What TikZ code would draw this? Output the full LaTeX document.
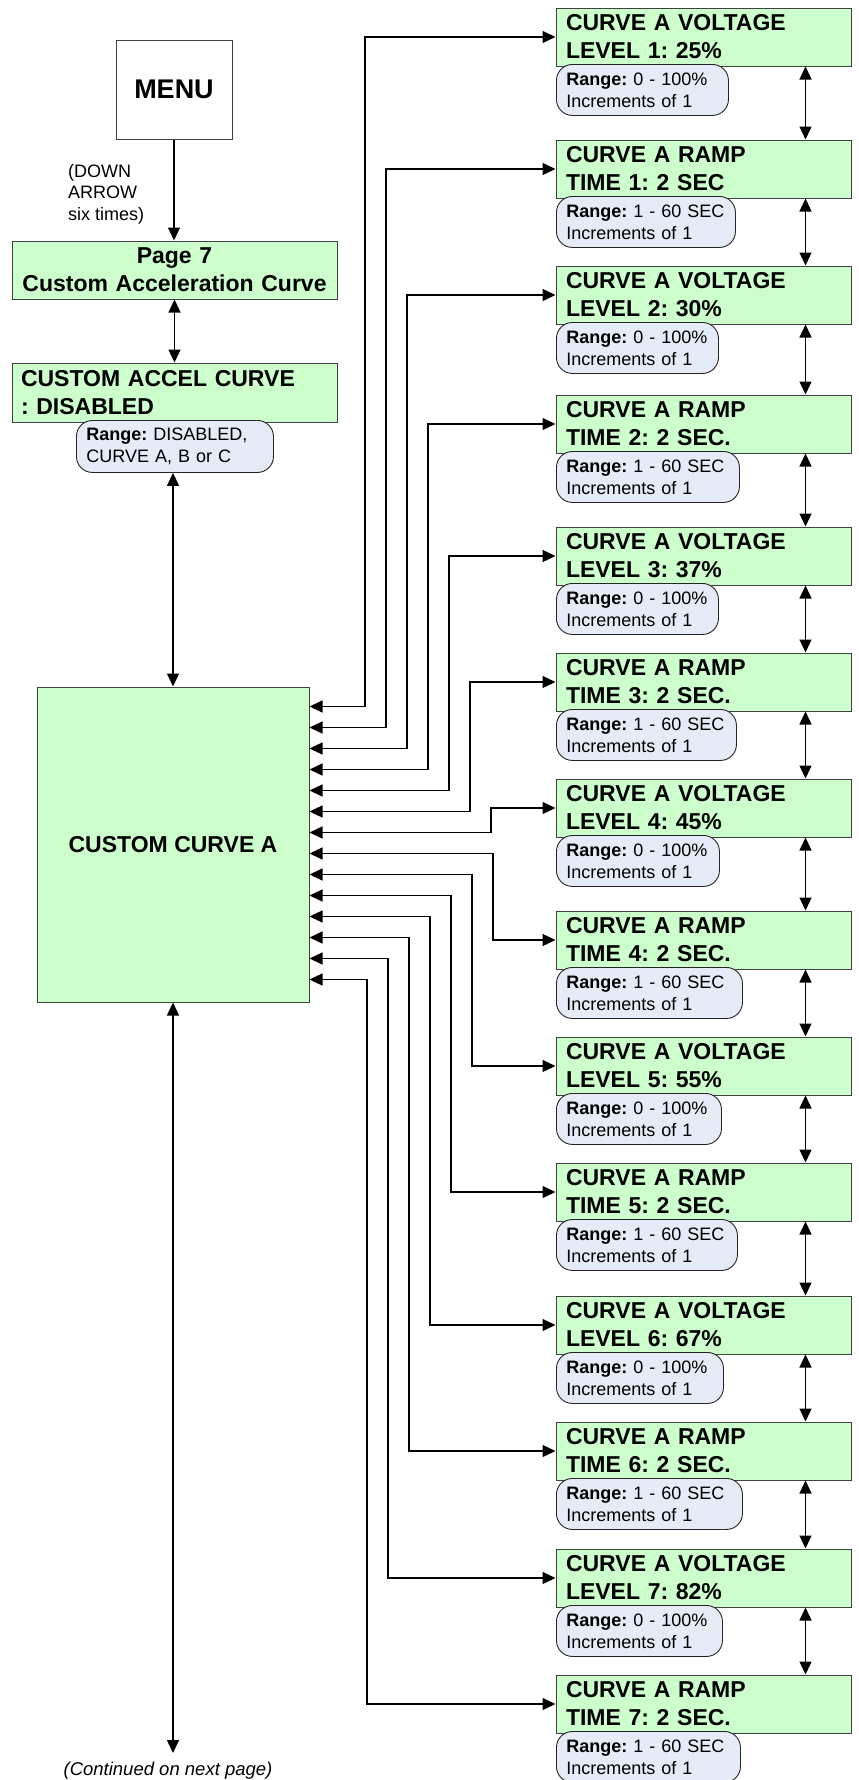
\documentclass[tikz,border=0pt]{standalone}
\usepackage{fontspec}
\setmainfont{Liberation Sans}
\usetikzlibrary{arrows.meta,calc}
\definecolor{boxgreen}{HTML}{CCFFCC}
\definecolor{rangefill}{HTML}{E5EBF7}
\definecolor{edgegray}{HTML}{404040}
\newcommand{\rngV}{\mbox{\textbf{Range:} 0 - 100\%}\\\mbox{Increments of 1}}
\newcommand{\rngR}{\mbox{\textbf{Range:} 1 - 60 SEC}\\\mbox{Increments of 1}}
\begin{document}
\frenchspacing
\begin{tikzpicture}[x=1pt,y=-1pt,
  bigfont/.style={font=\fontsize{23}{28}\selectfont\bfseries},
  gbox/.style={draw=edgegray, fill=boxgreen, line width=1pt, minimum width=295pt, minimum height=58pt, text width=275pt, inner xsep=10pt, inner ysep=0pt, align=left, bigfont},
  rbox/.style={draw=black!85, fill=rangefill, line width=0.9pt, rounded corners=16pt, minimum height=51pt, inner xsep=10pt, inner ysep=0pt, align=left, anchor=north west, font=\fontsize{18}{22}\selectfont},
  dbl/.style={line width=1.3pt, {Triangle[length=13pt,width=12pt]}-{Triangle[length=13pt,width=12pt]}},
  one/.style={line width=1.3pt, -{Triangle[length=13pt,width=12pt]}},
  note/.style={font=\fontsize{18}{21.7}\selectfont, align=left, inner sep=0pt}
]
\useasboundingbox (0,0) rectangle (859,1780);

% left column
\node[draw=edgegray, fill=white, line width=1pt, minimum width=116pt, minimum height=99pt, inner sep=0pt, font=\fontsize{27}{32}\selectfont\bfseries] (menu) at (174,89.5) {MENU};
\node[note, anchor=north west] (downnote) at (68,164) {(DOWN\\ARROW\\six times)};
\node[gbox, minimum width=325pt, text width=305pt, align=center] (p7) at (174.5,270) {Page 7\\Custom Acceleration Curve};
\node[gbox, minimum width=325pt, minimum height=59pt, text width=307pt, inner xsep=9pt] (accel) at (174.5,392.5) {CUSTOM ACCEL CURVE\\: DISABLED};
\node[rbox, minimum width=197pt, minimum height=52pt, text width=177pt] (accrange) at (76,420) {\mbox{\textbf{Range:} DISABLED,}\\\mbox{CURVE A, B or C}};
\node[draw=edgegray, fill=boxgreen, line width=1pt, minimum width=272pt, minimum height=315pt, bigfont] (cc) at (173,844.5) {CUSTOM CURVE A};
\coordinate (cont) at (173,1753);
\node[inner sep=0pt, anchor=north, font=\fontsize{18.5}{22}\selectfont\itshape] (contnote) at (168,1762) {(Continued on next page)};

\draw[one] (menu.south) -- (p7.north -| menu.south);
\draw[dbl] (p7.south) -- (accel.north);
\draw[dbl] (accrange.south -| cc.north) -- (cc.north);
\draw[dbl] (cc.south) -- (cont);

% right column
\node[gbox] (b1) at (703.5,37) {CURVE A VOLTAGE\\LEVEL 1: 25\%};
\node[gbox] (b2) at (703.5,169) {CURVE A RAMP\\TIME 1: 2 SEC};
\node[gbox] (b3) at (703.5,295) {CURVE A VOLTAGE\\LEVEL 2: 30\%};
\node[gbox] (b4) at (703.5,424) {CURVE A RAMP\\TIME 2: 2 SEC.};
\node[gbox] (b5) at (703.5,556) {CURVE A VOLTAGE\\LEVEL 3: 37\%};
\node[gbox] (b6) at (703.5,682) {CURVE A RAMP\\TIME 3: 2 SEC.};
\node[gbox] (b7) at (703.5,808) {CURVE A VOLTAGE\\LEVEL 4: 45\%};
\node[gbox] (b8) at (703.5,940) {CURVE A RAMP\\TIME 4: 2 SEC.};
\node[gbox] (b9) at (703.5,1066) {CURVE A VOLTAGE\\LEVEL 5: 55\%};
\node[gbox] (b10) at (703.5,1192) {CURVE A RAMP\\TIME 5: 2 SEC.};
\node[gbox] (b11) at (703.5,1325) {CURVE A VOLTAGE\\LEVEL 6: 67\%};
\node[gbox] (b12) at (703.5,1451) {CURVE A RAMP\\TIME 6: 2 SEC.};
\node[gbox] (b13) at (703.5,1578) {CURVE A VOLTAGE\\LEVEL 7: 82\%};
\node[gbox] (b14) at (703.5,1704) {CURVE A RAMP\\TIME 7: 2 SEC.};

\node[rbox, minimum width=172pt, text width=152pt] (r1) at (556,64) {\rngV};
\node[rbox, minimum width=179pt, text width=159pt] (r2) at (556,196) {\rngR};
\node[rbox, minimum width=162pt, text width=142pt] (r3) at (556,322) {\rngV};
\node[rbox, minimum width=183pt, text width=163pt] (r4) at (556,451) {\rngR};
\node[rbox, minimum width=162pt, text width=142pt] (r5) at (556,583) {\rngV};
\node[rbox, minimum width=180pt, text width=160pt] (r6) at (556,709) {\rngR};
\node[rbox, minimum width=163pt, text width=143pt] (r7) at (556,835) {\rngV};
\node[rbox, minimum width=186pt, text width=166pt] (r8) at (556,967) {\rngR};
\node[rbox, minimum width=165pt, text width=145pt] (r9) at (556,1093) {\rngV};
\node[rbox, minimum width=181pt, text width=161pt] (r10) at (556,1219) {\rngR};
\node[rbox, minimum width=167pt, text width=147pt] (r11) at (556,1352) {\rngV};
\node[rbox, minimum width=186pt, text width=166pt] (r12) at (556,1478) {\rngR};
\node[rbox, minimum width=166pt, text width=146pt] (r13) at (556,1605) {\rngV};
\node[rbox, minimum width=184pt, text width=164pt] (r14) at (556,1731) {\rngR};

\foreach \i [evaluate=\i as \j using int(\i+1)] in {1,...,13}
  \draw[dbl] ([xshift=-46pt]b\i.south east) -- ([xshift=-46pt]b\j.north east);

\foreach \i/\xx in {1/365,2/386,3/407,4/428,5/449,6/470,7/491,8/493,9/472,10/451,11/430,12/409,13/388,14/367} {
  \coordinate (e\i) at ($(cc.north east)+(0,{20+21*(\i-1)})$);
  \coordinate (v\i) at (\xx,0);
  \draw[dbl] (e\i) -| (v\i |- b\i.west) -- (b\i.west);
}
\end{tikzpicture}
\end{document}
